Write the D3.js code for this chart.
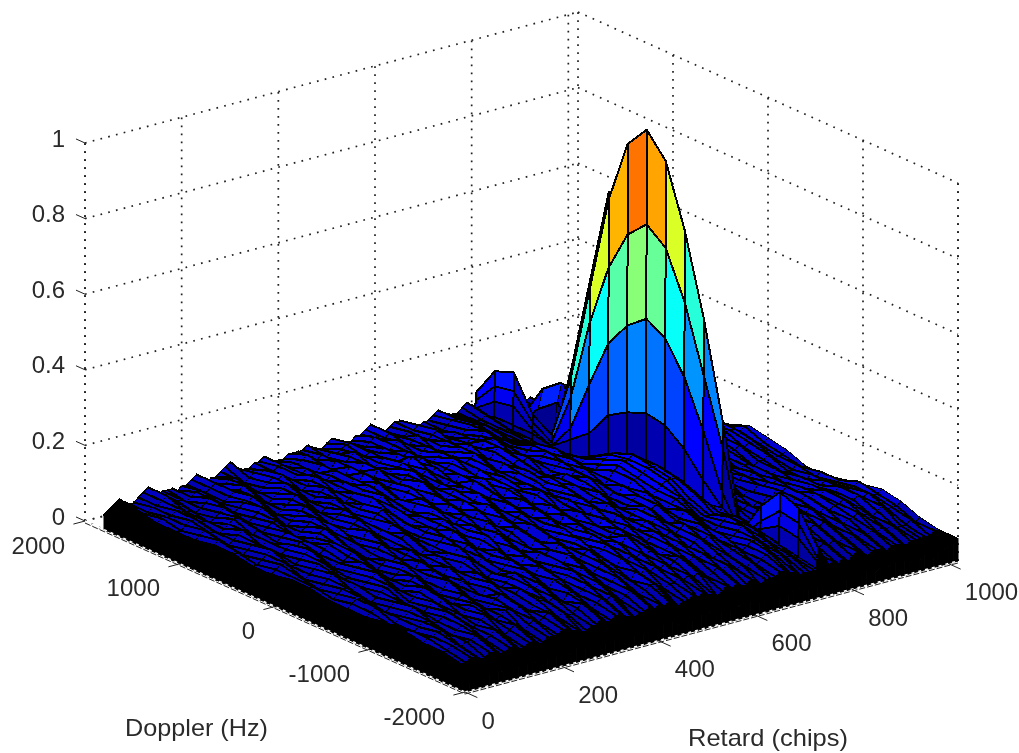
<!DOCTYPE html>
<html><head><meta charset="utf-8">
<script src="https://cdnjs.cloudflare.com/ajax/libs/d3/7.8.5/d3.min.js"></script>
<style>html,body{margin:0;padding:0;background:#fff}svg{display:block;filter:blur(0.3px)}text{font-family:"Liberation Sans",Arial,sans-serif;font-size:24px;fill:#2a2a2a}</style>
</head><body><svg id="c" width="1019" height="753"></svg>
<script>
const retardTicks=[0,200,400,600,800,1000];
const dopplerTicks=[2000,1000,0,-1000,-2000];
const zTicks=[0,0.2,0.4,0.6,0.8,1];
const zTickLabels=["0","0.2","0.4","0.6","0.8","1"];
const dopplerHz=[-2000,-1800,-1600,-1400,-1200,-1000,-800,-600,-400,-200,0,200,400,600,800,1000,1200,1400,1600,1800];
const retardChips=[0,10,20,30,40,50,60,70,80,90,100,110,120,130,140,150,160,170,180,190,200,210,220,230,240,250,260,270,280,290,300,310,320,330,340,350,360,370,380,390,400,410,420,430,440,450,460,470,480,490,500,510,520,530,540,550,560,570,580,590,600,610,620,630,640,650,660,670,680,690,700,710,720,730,740,750,760,768,768.25,768.5,768.75,769,769.25,769.5,769.75,770,780,790,800,810,820,830,840,850,860,870,880,890,900,910,920,930,940,950,960,970,980,990,1000,1010,1020];
// correlation magnitude x100, one row per retard value, columns follow dopplerHz
const corrPercent=[
[2,3,3,4,4,3,3,4,4,3,3,4,4,3,3,3,4,3,3,4],
[2,3,4,4,5,4,4,4,5,4,4,4,5,4,4,4,4,4,4,5],
[2,4,4,5,5,5,5,5,5,5,5,5,5,5,5,5,5,5,5,6],
[3,4,5,5,6,6,5,5,5,6,6,5,5,6,6,5,5,5,6,7],
[3,4,5,6,6,5,6,6,5,6,6,6,5,6,7,6,5,6,5,6],
[3,5,6,6,5,5,7,7,6,5,6,7,6,5,6,7,6,6,5,5],
[3,5,6,7,6,6,6,7,7,6,5,7,7,6,5,6,7,6,6,5],
[3,4,5,7,7,6,5,6,7,7,6,6,8,7,6,6,7,7,6,6],
[3,4,6,6,7,7,6,5,6,8,7,6,7,7,7,5,6,7,7,7],
[3,5,6,5,6,8,7,6,7,7,8,7,6,6,8,6,6,6,8,8],
[3,5,7,6,6,7,7,7,6,6,8,8,7,7,7,7,5,6,7,6],
[3,4,6,7,7,6,6,8,7,6,7,9,8,6,6,8,6,5,6,5],
[3,4,5,7,8,7,6,8,8,7,6,8,7,6,7,8,7,6,6,6],
[3,5,6,6,7,8,7,7,9,8,7,7,8,7,6,7,8,7,5,6],
[3,5,7,6,7,7,8,6,8,9,7,8,8,8,7,6,7,8,6,6],
[3,4,6,7,6,8,9,7,7,8,8,9,7,7,8,7,6,7,7,5],
[3,4,5,8,7,7,8,8,6,7,9,9,8,6,8,8,7,6,7,6],
[3,5,6,7,8,6,7,9,7,6,8,8,9,7,7,9,8,6,6,6],
[3,5,7,6,8,7,6,8,8,7,7,8,10,8,6,8,8,7,7,7],
[3,4,6,7,7,8,7,7,9,8,6,7,9,9,7,7,9,8,8,8],
[3,4,5,8,6,7,9,8,8,7,7,8,8,10,8,6,8,8,6,6],
[3,5,6,8,7,6,8,9,7,8,8,7,9,9,9,7,7,9,7,5],
[3,5,7,7,8,7,7,8,9,7,9,8,7,8,10,8,6,8,8,6],
[4,5,6,8,9,6,8,7,8,8,8,10,8,7,9,9,7,7,8,6],
[4,6,7,7,8,8,7,9,7,9,7,9,9,8,8,10,8,6,7,7],
[3,6,8,6,7,9,8,8,8,8,8,8,10,9,7,9,9,7,6,8],
[3,5,7,7,8,8,9,7,9,7,9,9,9,10,8,8,10,8,7,9],
[3,5,6,8,9,7,8,9,8,8,10,8,8,9,9,7,9,9,8,7],
[3,4,7,8,8,8,7,10,9,7,9,10,9,8,10,8,8,8,7,6],
[3,4,6,7,9,9,8,9,8,8,8,9,10,9,9,9,7,9,8,6],
[3,5,6,8,8,10,7,8,10,9,8,8,11,10,8,10,8,8,7,6],
[3,5,7,7,9,9,8,9,9,10,9,9,10,9,9,9,9,7,7,7],
[4,6,8,6,8,10,9,8,10,9,10,8,9,11,10,8,10,8,8,7],
[4,5,7,8,7,9,10,9,9,11,9,9,10,10,9,9,9,8,8,8],
[3,5,6,8,9,8,9,10,8,10,10,10,8,11,10,10,8,9,7,7],
[3,6,7,7,9,10,8,9,10,9,11,9,9,10,11,9,9,8,8,6],
[3,6,8,8,8,9,10,8,11,10,10,10,8,9,10,10,10,7,7,6],
[3,5,7,9,9,8,9,10,9,11,9,11,10,9,11,9,9,9,8,6],
[3,5,8,8,10,9,8,9,11,10,10,10,11,8,10,11,8,8,9,7],
[3,4,7,9,9,10,10,8,10,9,11,9,10,10,9,10,10,7,8,7],
[3,5,6,8,10,9,9,9,9,11,10,11,9,11,10,9,9,9,7,7],
[4,5,7,7,9,11,10,8,10,10,9,10,11,10,9,11,8,8,8,7],
[4,6,8,8,8,10,9,10,11,9,11,9,10,12,10,10,10,8,7,8],
[4,5,7,9,9,9,11,9,10,11,10,11,9,11,11,9,9,9,8,7],
[3,6,6,8,10,10,10,8,9,10,12,10,10,10,12,10,8,10,7,6],
[3,5,7,8,9,11,9,10,11,9,11,10,11,9,11,10,9,9,8,6],
[3,6,8,7,9,10,10,9,10,10,10,12,10,10,10,11,10,8,9,7],
[3,5,8,9,8,9,11,10,9,11,9,11,11,9,11,10,9,9,9,8],
[3,4,7,8,10,10,9,11,10,10,11,10,10,10,10,12,8,8,8,6],
[4,5,6,9,9,11,10,9,11,9,10,11,12,9,11,10,10,8,7,6],
[4,5,7,8,10,10,11,10,10,11,9,10,11,11,9,11,9,9,7,6],
[4,6,7,9,9,11,9,11,9,10,11,9,12,10,10,10,10,8,8,6],
[3,5,8,8,10,10,10,10,11,9,10,11,10,11,11,9,9,9,9,7],
[3,6,7,9,9,12,9,9,10,11,9,11,11,9,12,10,8,10,8,7],
[3,5,8,8,10,11,10,10,9,10,11,10,10,11,11,11,9,9,8,8],
[3,5,7,9,9,10,11,9,11,9,12,10,11,10,10,10,10,8,9,9],
[3,4,8,10,8,10,10,11,10,10,11,11,9,11,11,9,9,9,8,6],
[4,5,7,9,9,9,11,10,9,11,10,10,10,10,12,10,8,10,7,6],
[4,6,6,8,10,10,10,9,11,10,9,11,11,9,11,11,9,9,7,6],
[4,5,7,9,9,11,9,11,10,11,10,9,10,11,10,10,10,8,8,7],
[3,6,8,8,10,10,10,10,9,10,11,10,11,10,9,11,9,9,8,8],
[3,5,7,9,9,9,11,9,11,9,10,11,9,10,11,10,8,10,9,8],
[4,5,8,8,8,10,10,10,10,10,11,9,10,11,12,9,9,8,8,6],
[4,6,7,7,9,9,11,11,9,11,10,10,9,10,11,11,8,7,7,6],
[3,5,6,8,10,10,10,10,8,10,11,11,8,11,10,10,9,7,6,5],
[3,4,7,8,9,11,9,11,9,9,12,10,9,10,9,11,8,8,6,5],
[3,5,6,7,10,10,8,10,10,10,11,11,10,9,9,10,9,7,6,6],
[3,5,7,8,9,9,9,11,11,9,10,10,11,10,8,9,10,8,7,6],
[4,5,6,8,8,10,9,10,10,11,9,11,10,11,9,8,9,9,8,7],
[4,6,7,7,9,9,11,9,11,10,10,10,11,10,10,8,8,9,8,8],
[4,6,8,8,7,8,10,10,10,12,12,10,9,11,10,8,7,8,8,7],
[3,5,8,9,8,7,9,11,11,12,13,11,9,10,9,7,7,8,7,6],
[3,5,7,9,9,8,8,11,12,13,14,12,10,9,8,7,6,7,7,6],
[3,4,7,8,10,9,8,10,13,14,14,13,10,8,7,6,6,6,6,6],
[3,4,6,8,9,10,8,10,13,14,15,13,10,7,6,5,6,6,6,7],
[3,4,6,7,9,9,8,11,13,14,14,12,9,6,5,5,5,6,7,8],
[3,4,5,7,8,9,8,10,12,13,13,11,8,5,4,4,5,5,6,7],
[3,4,5,6,6,5,9,8,7,6,4,5,5,5,4,3,3,4,3,3],
[3,4,5,6,5,6,9,14,20,24,25,23,20,13,9,5,6,6,6,4],
[4,6,10,11,8,4,13,27,39,47,50,46,39,26,12,5,7,11,10,6],
[4,7,14,15,10,4,25,42,59,71,75,70,59,42,20,6,9,15,14,8],
[4,10,18,20,14,5,32,57,78,94,100,94,77,51,25,8,11,20,18,10],
[4,7,14,15,10,4,25,42,59,71,75,72,79,53,27,6,9,15,14,8],
[4,6,10,11,8,4,13,27,39,47,50,46,39,26,12,5,7,11,10,6],
[3,4,5,6,5,6,9,14,20,24,25,23,20,13,9,5,6,6,6,4],
[3,4,5,6,6,5,9,8,7,6,4,5,5,5,4,3,3,4,3,3],
[3,4,5,6,7,7,8,9,9,8,7,6,6,7,10,16,12,6,5,5],
[3,4,6,6,8,7,9,8,10,8,8,7,8,10,14,21,17,8,5,4],
[3,5,5,7,7,8,8,10,9,9,9,8,9,11,16,20,12,6,5,5],
[4,4,6,8,8,7,7,9,10,10,8,9,9,11,11,8,6,6,5,4],
[3,5,7,7,9,8,8,8,11,9,10,8,10,10,10,8,7,5,6,5],
[4,4,6,8,8,9,7,9,10,11,9,10,9,9,9,9,6,6,5,4],
[3,5,7,9,9,8,8,8,9,10,11,10,9,10,8,8,7,5,5,4],
[3,6,6,8,10,9,7,7,10,10,10,11,11,9,9,7,6,6,4,4],
[4,5,7,9,9,10,9,8,8,9,11,10,10,10,8,8,7,5,5,5],
[3,4,6,8,10,9,8,7,7,10,10,11,11,9,9,7,6,5,5,4],
[4,5,7,7,9,10,10,9,8,8,9,10,11,11,8,8,6,6,5,5],
[4,5,6,8,8,9,9,8,9,7,9,11,10,10,10,7,7,5,5,4],
[3,5,7,7,9,10,10,9,8,8,8,9,11,11,9,8,6,6,6,4],
[4,4,6,8,8,9,9,8,9,8,9,10,10,10,10,8,7,5,5,5],
[3,5,7,8,9,10,8,9,8,7,9,9,11,9,9,7,7,6,4,4],
[4,5,6,9,9,9,9,8,7,8,8,10,10,10,8,8,6,5,5,4],
[3,5,7,8,10,10,8,7,8,8,9,11,11,9,9,7,6,6,5,5],
[4,4,6,8,9,9,9,8,7,7,9,10,10,10,8,7,7,5,4,4],
[4,5,7,7,9,9,8,7,8,8,10,10,11,9,8,8,6,5,5,5],
[3,5,6,8,10,10,8,8,7,8,9,11,10,9,8,7,6,5,5,5],
[4,5,6,9,9,9,9,7,7,9,10,11,10,8,8,7,6,5,5,4],
[4,5,6,8,10,9,8,8,7,8,10,11,11,9,7,6,6,5,5,5],
[5,5,7,8,9,9,8,7,8,8,9,10,10,8,7,6,5,5,6,5],
[5,6,6,8,9,10,8,8,7,8,9,11,9,8,7,6,6,5,5,4],
[6,6,7,9,10,9,8,7,7,9,10,11,9,8,7,6,6,5,6,5]
];
// black band where the original's mesh lines merge along the two front edges
const denseEdgeRows=3, denseEdgeCols=1;
const peakFrom=768, peakTo=770;

const W={ox:465,oy:692};
const rx=d3.scaleLinear([0,1020],[0,493]), ry=d3.scaleLinear([0,1020],[0,-131]);
const dx=d3.scaleLinear([-2000,2000],[0,-380]), dy=d3.scaleLinear([-2000,2000],[0,-171]);
const zy=d3.scaleLinear([0,1],[0,-378]);
const P=(r,d,z)=>[W.ox+rx(r)+dx(d),W.oy+ry(r)+dy(d)+zy(z)];
function jet(v){
  const t=Math.min(63,Math.max(0,Math.floor(v*64)))/63;
  const f=(a)=>Math.max(0,Math.min(1,1.5-Math.abs(4*t-a)));
  return d3.rgb(255*f(3),255*f(2),255*f(1)).formatRgb();
}
const svg=d3.select("#c");
const line=d3.line();
const RMAX=1020,DMIN=-2000,DMAX=2000;
const grid=svg.append("g").attr("fill","none").attr("stroke","#222").attr("stroke-width",1.7).attr("stroke-dasharray","1.7 6.3");
function seg(g,a,b){return g.append("path").attr("d",line([a,b]));}
zTicks.forEach(z=>{
  seg(grid,P(0,DMAX,z),P(RMAX,DMAX,z));
  seg(grid,P(RMAX,DMAX,z),P(RMAX,DMIN,z));
});
retardTicks.forEach(r=>{seg(grid,P(r,DMAX,0),P(r,DMAX,1));seg(grid,P(r,DMIN,0),P(r,DMAX,0));});
dopplerTicks.forEach(d=>{seg(grid,P(RMAX,d,0),P(RMAX,d,1));seg(grid,P(0,d,0),P(RMAX,d,0));});
seg(grid,P(RMAX,DMIN,0),P(RMAX,DMIN,1));seg(grid,P(0,DMAX,0),P(0,DMAX,1));

const surf=svg.append("g").attr("stroke","#000").attr("stroke-linejoin","round").attr("shape-rendering","crispEdges");
const z=(a,b)=>corrPercent[a][b]/100;
for(let i=retardChips.length-2;i>=0;i--){
  const onPeak=retardChips[i]>=peakFrom&&retardChips[i+1]<=peakTo;
  for(let j=dopplerHz.length-2;j>=0;j--){
    const a=P(retardChips[i],dopplerHz[j],z(i,j)),b=P(retardChips[i+1],dopplerHz[j],z(i+1,j)),c=P(retardChips[i+1],dopplerHz[j+1],z(i+1,j+1)),d=P(retardChips[i],dopplerHz[j+1],z(i,j+1));
    const black=i<denseEdgeRows||j<denseEdgeCols;
    surf.append("path").attr("d",line([a,b,c,d])+"Z").attr("fill",black?"#000":jet(z(i,j))).attr("stroke-width",onPeak?2:1);
    surf.append("path").attr("d",line([d,a])).attr("fill","none").attr("stroke-width",onPeak?2:3.3);
  }
}
// black skirt down to the floor along the two front edges
const skirt=svg.append("g").attr("fill","#000").attr("stroke","#000");
retardChips.slice(0,-1).forEach((r,i)=>{const n=retardChips[i+1];
  skirt.append("path").attr("d",line([P(r,DMIN,z(i,0)),P(n,DMIN,z(i+1,0)),P(n,DMIN,0),P(r,DMIN,0)])+"Z");});
dopplerHz.slice(0,-1).forEach((d,j)=>{const n=dopplerHz[j+1];
  skirt.append("path").attr("d",line([P(0,d,z(0,j)),P(0,n,z(0,j+1)),P(0,n,0),P(0,d,0)])+"Z");});
// axes: broken line below a speckled white edge, as in the reference
const ax=svg.append("g").attr("fill","none").attr("stroke","#222").attr("stroke-width",1);
[[P(0,DMAX,0),P(0,DMIN,0)],[P(0,DMIN,0),P(RMAX,DMIN,0)]].forEach(([a,b])=>{
  seg(ax,a,b).attr("stroke","#fff").attr("stroke-dasharray","3 4").attr("stroke-width",1.5);
  seg(ax,[a[0],a[1]+2],[b[0],b[1]+2]).attr("stroke-dasharray","6 2");
});
zTicks.forEach(v=>seg(ax,P(0,DMAX,v),P(0,DMAX+95,v)));
dopplerTicks.forEach(d=>seg(ax,P(0,d,0),P(-24,d,0)));
retardTicks.forEach(r=>seg(ax,P(r,DMIN,0),P(r,DMIN-130,0)));
const tx=svg.append("g");
function T(s,x,y,anchor){return tx.append("text").attr("x",x).attr("y",y).attr("text-anchor",anchor).attr("dominant-baseline","central").text(s);}
zTicks.forEach((v,i)=>{const p=P(0,DMAX,v);T(zTickLabels[i],65,p[1]-5,"end");});
dopplerTicks.forEach(d=>{const p=P(0,d,0);T(String(d),p[0]-20,p[1]+24,"end");});
retardTicks.forEach(r=>{const p=P(r,DMIN,0);T(String(r),p[0]+16.5,p[1]+28,"start");});
T("Doppler (Hz)",125,727,"start").attr("textLength",143).attr("lengthAdjust","spacingAndGlyphs");
T("Retard (chips)",688,737,"start").attr("textLength",160).attr("lengthAdjust","spacingAndGlyphs");
</script></body></html>
